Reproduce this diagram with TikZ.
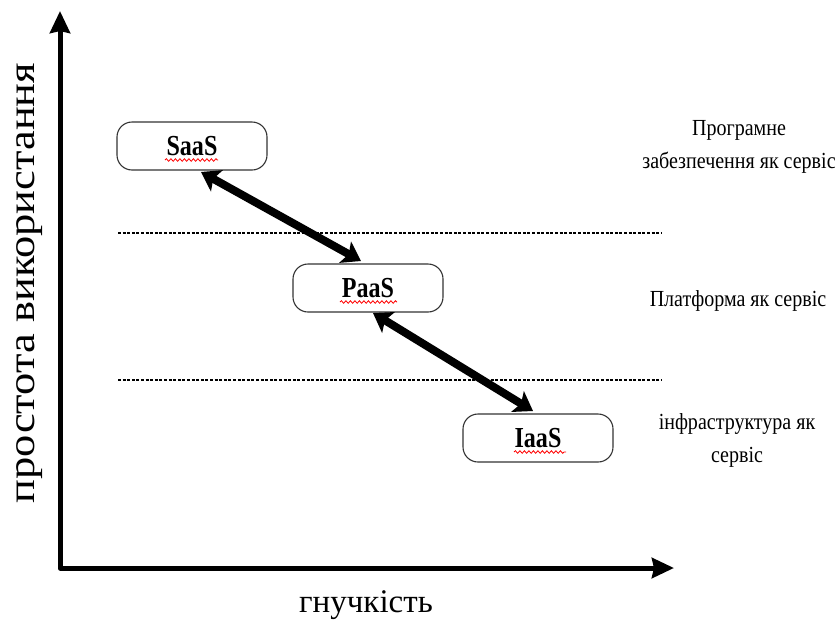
\documentclass[tikz,border=0pt]{standalone}
\usepackage{fontspec}
\setmainfont{Liberation Serif}
\newfontfamily\narrowserif[FakeStretch=0.83]{Liberation Serif}
\newfontfamily\sideserif[FakeStretch=0.87]{Liberation Serif}
\newfontfamily\wideserif[FakeStretch=1.17]{Liberation Serif}
\usetikzlibrary{arrows.meta,decorations.pathmorphing}
\begin{document}
\begin{tikzpicture}[x=1pt,y=-1pt,
  svcbox/.style={draw=black!80,line width=1.1pt,rounded corners=15pt,minimum width=150pt,minimum height=48pt,inner sep=0pt,font=\narrowserif\fontsize{29}{30}\selectfont\bfseries},
  squiggle/.style={red,line width=0.8pt,decorate,decoration={snake,segment length=4.5pt,amplitude=1.3pt}},
  sep/.style={line width=1.2pt,dash pattern=on 3pt off 1.6pt},
  axis/.style={line width=5pt,line join=round,{Stealth[length=22pt,width=20pt,inset=2pt]}-{Stealth[length=22pt,width=20pt,inset=2pt]}},
  link/.style={line width=8pt,{Stealth[length=18pt,width=24pt,inset=4pt]}-{Stealth[length=18pt,width=24pt,inset=4pt]}},
  side/.style={font=\sideserif\fontsize{23}{33}\selectfont,align=center},
  axlabel/.style={font=\fontsize{33}{36}\selectfont}
]
\useasboundingbox (0,0) rectangle (840,627);
% axes
\coordinate (ytop) at (60,11);
\coordinate (xend) at (674,568);
\draw[axis] (ytop) |- (xend);
\node[axlabel,font=\wideserif\fontsize{38}{40}\selectfont,rotate=90] (ylab) at (30,283) {простота використання};
\node[axlabel] (xlab) at (366,605) {гнучкість};
% separators
\coordinate (s1a) at (118,233); \coordinate (s1b) at (662,233);
\coordinate (s2a) at (118,380); \coordinate (s2b) at (662,380);
\draw[sep] (s1a) -- (s1b);
\draw[sep] (s2a) -- (s2b);
% boxes
\node[svcbox] (saas) at (192,146) {SaaS};
\node[svcbox] (paas) at (368,288) {PaaS};
\node[svcbox] (iaas) at (538,438) {IaaS};
\draw[squiggle] (165,160) -- (218,160);
\draw[squiggle] (340,302) -- (397,302);
\draw[squiggle] (514,452) -- (566,452);
% links
\coordinate (a1) at (201,172);
\coordinate (a2) at (361,261);
\coordinate (b1) at (373,313);
\coordinate (b2) at (533,411);
\draw[link] (a1) -- (a2);
\draw[link] (b1) -- (b2);
% side labels
\node[side] (t1) at (739,147) {Програмне\\забезпечення як сервіс};
\node[side] (t2) at (738,301) {Платформа як сервіс};
\node[side] (t3) at (737,440) {інфраструктура як\\сервіс};
\end{tikzpicture}
\end{document}
